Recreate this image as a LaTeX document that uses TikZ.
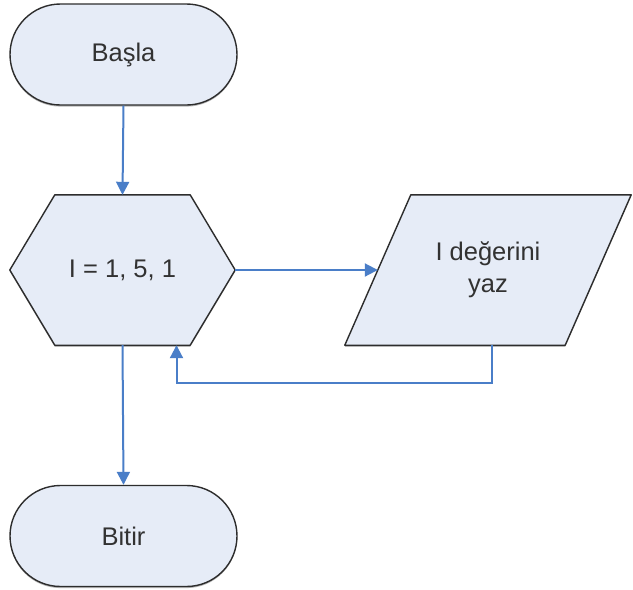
\documentclass[tikz,border=0pt]{standalone}
\usepackage{fontspec}
\setmainfont{Liberation Sans}
\usetikzlibrary{shapes.misc,arrows.meta,calc,shadows}
\definecolor{boxfill}{RGB}{230,236,247}
\definecolor{flowblue}{RGB}{74,126,200}
\definecolor{edgegray}{RGB}{45,45,45}
\definecolor{txtgray}{RGB}{50,50,50}
\tikzset{
  boxline/.style={draw=edgegray, line width=1.4pt, fill=boxfill, line join=round,
    drop shadow={shadow xshift=0pt, shadow yshift=-1.6pt, fill=black!35, opacity=0.8}},
  terminal/.style={rounded rectangle, boxline, minimum width=227pt, minimum height=101pt,
    inner sep=0pt, font=\fontsize{25.5}{32}\selectfont, text=txtgray},
  frame/.style={inner sep=0pt, font=\fontsize{25.5}{32}\selectfont, text=txtgray, align=center},
  flow/.style={draw=flowblue, line width=2pt, -{Triangle[length=13pt,width=13pt]}}
}
\begin{document}
\begin{tikzpicture}[x=1pt, y=-1pt]
\useasboundingbox[fill=white] (0,0) rectangle (633,590);

% terminals
\node[terminal] (start) at (123.5,54.5) {Başla};
\node[terminal] (stop)  at (123.5,536) {Bitir};

% loop (hexagon) frame and outline
\node[frame, minimum width=225pt, minimum height=150pt] (loop) at (122.5,270) {};
\path[boxline] (loop.west) -- ($(loop.north west)+(45,0)$) -- ($(loop.north east)+(-45,0)$)
  -- (loop.east) -- ($(loop.south east)+(-45,0)$) -- ($(loop.south west)+(45,0)$) -- cycle;
\node[frame] at (loop.center) {I = 1, 5, 1};

% output (parallelogram) frame and outline
\node[frame, minimum width=286pt, minimum height=150pt] (out) at (488,270) {};
\path[boxline] (out.south west) -- ($(out.north west)+(66,0)$) -- (out.north east)
  -- ($(out.south east)+(-66,0)$) -- cycle;
\node[frame] at (out.center) {I değerini\\yaz};

% connection points
\coordinate (outin) at ($(out.west)+(33,0)$);
\coordinate (back) at ($(loop.south)+(54,0)$);
\coordinate (outbot) at ($(out.south)+(4,0)$);

% connectors
\draw[flow] (start.south) -- (loop.north);
\draw[flow] (loop.east) -- (outin);
\draw[flow] (outbot) -- ++(0,37.5) -| (back);
\draw[flow] (loop.south) -- (stop.north);
\end{tikzpicture}
\end{document}
